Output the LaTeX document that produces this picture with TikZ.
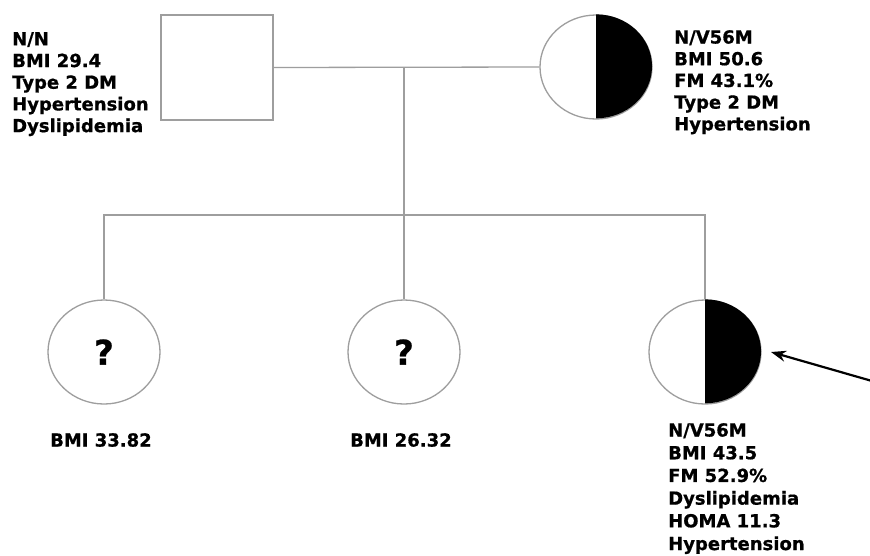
\documentclass[tikz,border=0pt]{standalone}
\usepackage{fontspec}
\setmainfont{DejaVu Sans}
\newfontfamily\heavyfont[FakeBold=0.8]{DejaVu Sans Bold}
\usetikzlibrary{shapes.geometric,arrows.meta}
\definecolor{pedline}{gray}{0.62}
\tikzset{
  person/.style={draw=pedline, line width=1.3pt, fill=white, inner sep=0pt},
  male/.style={person, rectangle, minimum width=112pt, minimum height=105pt},
  female/.style={person, ellipse, minimum width=112pt, minimum height=104pt},
  link/.style={draw=pedline, line width=1.3pt},
  lbl/.style={anchor=north west, inner sep=0pt, align=left, font=\heavyfont\fontsize{18}{21.7}\selectfont},
  lblwide/.style={lbl, font=\heavyfont\fontsize{18}{22.7}\selectfont},
  qmark/.style={inner sep=0pt, font=\heavyfont\fontsize{34}{34}\selectfont}
}
\begin{document}
\begin{tikzpicture}[x=1pt,y=-1pt]
\useasboundingbox (0,0) rectangle (870,555);
\fill[white] (0,0) rectangle (870,555);
% parents
\node[male] (father) at (217,67.5) {};
\node[female] (mother) at (596,67) {};
\fill[black] (mother.north) arc[start angle=90, end angle=-90, x radius=56pt, y radius=52pt] -- cycle;
% children
\node[female] (c1) at (104,352) {};
\node[female] (c2) at (404,352) {};
\node[female] (c3) at (705,352) {};
\fill[black] (c3.north) arc[start angle=90, end angle=-90, x radius=56pt, y radius=52pt] -- cycle;
\node[qmark] (q1) at (c1.center) {?};
\node[qmark] (q2) at (c2.center) {?};
% connectors
\coordinate (mid) at (404,67);
\coordinate (sib) at (404,215);
\draw[link] (father.east) -- (mother.west);
\draw[link] (mid) -- (sib);
\draw[link] (c1.north) |- (c3.north |- sib) -- (c3.north);
\draw[link] (sib) -- (c2.north);
% arrow
\coordinate (atail) at (872,381);
\coordinate (atip) at (771,352);
\draw[line width=2.2pt, -{Stealth[length=15pt,width=11pt]}] (atail) -- (atip);
% labels
\node[lbl] (ftxt) at (12,32) {N/N\\BMI 29.4\\Type 2 DM\\Hypertension\\Dyslipidemia};
\node[lbl] (mtxt) at (674,30) {N/V56M\\BMI 50.6\\FM 43.1\%\\Type 2 DM\\Hypertension};
\node[lbl] (c1txt) at (50,433) {BMI 33.82};
\node[lbl] (c2txt) at (350,433) {BMI 26.32};
\node[lblwide] (c3txt) at (668,423) {N/V56M\\BMI 43.5\\FM 52.9\%\\Dyslipidemia\\HOMA 11.3\\Hypertension};
\end{tikzpicture}
\end{document}
